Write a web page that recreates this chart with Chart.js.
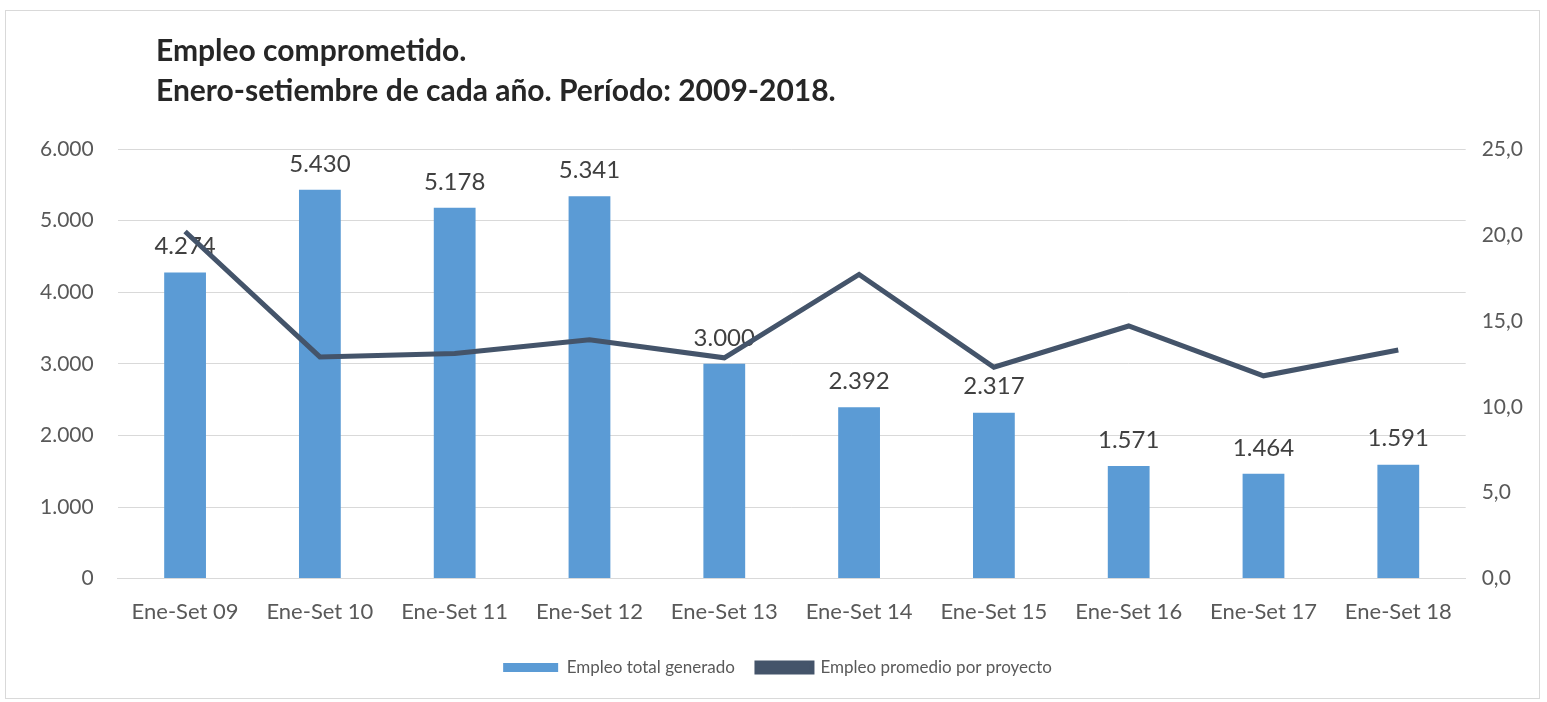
<!DOCTYPE html>
<html>
<head>
<meta charset="utf-8">
<script src="https://cdn.jsdelivr.net/npm/chart.js@4/dist/chart.umd.min.js"></script>
<style>
  body { margin: 0; background: #fff; }
  #box {
    position: absolute; left: 5px; top: 10px; width: 1535px; height: 689px;
    border: 1px solid #d9d9d9; box-sizing: border-box;
  }
  #title {
    position: absolute; left: 150px; top: 18px;
    font-family: Lato, sans-serif; font-weight: bold; font-size: 30px;
    color: #262626; line-height: 40px;
  }
  #wrap { position: absolute; left: 0; top: 0; width: 1533px; height: 687px; }
</style>
</head>
<body>
<div id="box">
  <div id="wrap"><canvas id="graph"></canvas></div>
  <div id="title">Empleo comprometido.<br>Enero-setiembre de cada año. Período: 2009-2018.</div>
</div>
<script>
var categorias = ["Ene-Set 09", "Ene-Set 10", "Ene-Set 11", "Ene-Set 12", "Ene-Set 13",
  "Ene-Set 14", "Ene-Set 15", "Ene-Set 16", "Ene-Set 17", "Ene-Set 18"];
var empleoTotal = [4274, 5430, 5178, 5341, 3000, 2392, 2317, 1571, 1464, 1591];
var empleoPromedio = [20.2, 12.9, 13.1, 13.9, 12.85, 17.7, 12.3, 14.7, 11.8, 13.3];

function miles(v) {
  var s = Math.round(v).toString();
  return s.replace(/\B(?=(\d{3})+(?!\d))/g, ".");
}

// etiquetas de valor sobre las barras
var barLabels = {
  id: "barLabels",
  afterDatasetDraw: function (chart, args) {
    if (args.index !== 0) return;
    var ctx = chart.ctx;
    ctx.save();
    ctx.font = "24px Lato, sans-serif";
    ctx.fillStyle = "#404040";
    ctx.textAlign = "center";
    ctx.textBaseline = "bottom";
    args.meta.data.forEach(function (bar, i) {
      ctx.fillText(miles(empleoTotal[i]), bar.x, bar.y - 14);
    });
    ctx.restore();
  },
};

Chart.defaults.font.family = "Lato, sans-serif";
Chart.defaults.color = "#595959";

var ctx = document.getElementById("graph").getContext("2d");
var myChart = new Chart(ctx, {
  type: "bar",
  data: {
    labels: categorias,
    datasets: [
      {
        type: "bar",
        label: "Empleo total generado",
        data: empleoTotal,
        backgroundColor: "#5b9bd5",
        barPercentage: 0.62,
        categoryPercentage: 0.5,
        yAxisID: "y",
        order: 2,
      },
      {
        type: "line",
        label: "Empleo promedio por proyecto",
        data: empleoPromedio,
        borderColor: "#44546a",
        backgroundColor: "#44546a",
        borderWidth: 5,
        pointRadius: 0,
        tension: 0,
        yAxisID: "y1",
        order: 1,
      },
    ],
  },
  options: {
    responsive: true,
    maintainAspectRatio: false,
    animation: false,
    layout: { padding: { top: 138, left: 10, right: 0, bottom: 12 } },
    plugins: {
      title: { display: false },
      tooltip: { enabled: false },
      legend: {
        position: "bottom",
        labels: {
          boxWidth: 55,
          boxHeight: 9,
          padding: 22,
          font: { size: 17 },
          color: "#595959",
          sort: function (a, b) { return a.datasetIndex - b.datasetIndex; },
        },
      },
    },
    scales: {
      x: {
        grid: { display: false },
        border: { color: "#d9d9d9" },
        ticks: { font: { size: 22 }, padding: 12, maxRotation: 0 },
      },
      y: {
        position: "left",
        min: 0,
        max: 6000,
        ticks: { stepSize: 1000, font: { size: 21 }, padding: 24, callback: function (v) { return miles(v); } },
        grid: { color: "#d9d9d9", drawTicks: false },
        border: { display: false },
      },
      y1: {
        position: "right",
        min: 0,
        max: 25,
        ticks: { stepSize: 5, font: { size: 21 }, padding: 16, callback: function (v) { return v.toFixed(1).replace(".", ","); } },
        grid: { display: false, drawTicks: false },
        border: { display: false },
      },
    },
  },
  plugins: [barLabels],
});
</script>
</body>
</html>
